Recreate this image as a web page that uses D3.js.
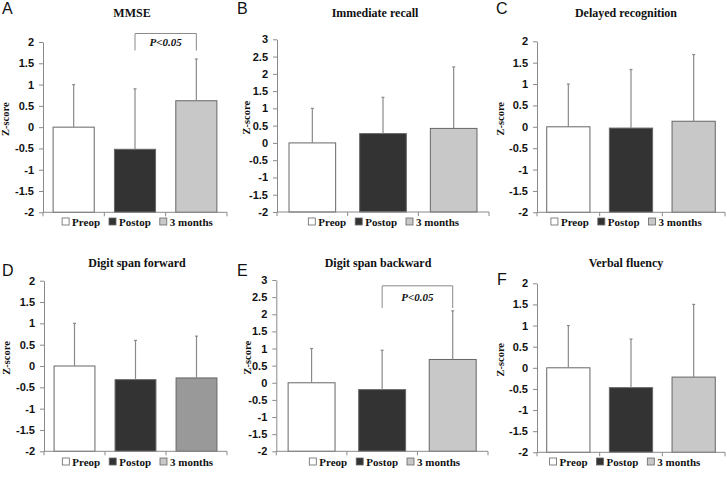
<!DOCTYPE html>
<html><head><meta charset="utf-8">
<script src="https://cdn.jsdelivr.net/npm/d3@7/dist/d3.min.js"></script>
<style>
body{margin:0;background:#fff;}
svg{display:block;}
</style></head>
<body>
<svg id="chart" width="727" height="483"></svg>
<script>
// ---------- DATA ----------
const categories = ["Preop", "Postop", "3 months"];
const panelLetters = ["A", "B", "C", "D", "E", "F"];
const panelTitles = ["MMSE", "Immediate recall", "Delayed recognition",
                     "Digit span forward", "Digit span backward", "Verbal fluency"];
const yMin = -2;
const yMaxes = [2, 3, 2, 2, 3, 2];
const yTickStep = 0.5;

const meansMMSE = [0, -0.52, 0.62];
const sdMMSE = [1.0, 1.42, 0.98];
const meansImmRecall = [0, 0.27, 0.42];
const sdImmRecall = [1.0, 1.05, 1.78];
const meansDelRecog = [0, -0.03, 0.13];
const sdDelRecog = [1.0, 1.37, 1.56];
const meansDSF = [0, -0.32, -0.28];
const sdDSF = [1.0, 0.92, 0.98];
const meansDSB = [0, -0.2, 0.68];
const sdDSB = [1.0, 1.15, 1.42];
const meansVF = [0, -0.47, -0.22];
const sdVF = [1.0, 1.15, 1.72];

const allMeans = [meansMMSE, meansImmRecall, meansDelRecog, meansDSF, meansDSB, meansVF];
const allSD = [sdMMSE, sdImmRecall, sdDelRecog, sdDSF, sdDSB, sdVF];

// significance comparisons (panel index, groups, label)
const sigPanels = [0, 4];
const sigFrom = ["Postop", "Postop"];
const sigTo = ["3 months", "3 months"];
const sigLabel = ["P<0.05", "P<0.05"];
const sigTop = [2.2, 2.83];   // bracket top in z units
const sigLeg = [1.8, 2.18];   // bracket leg end in z units

// ---------- LAYOUT ----------
const layout = [
  {left:43,    right:227, top:42,    bottom:212.3, pad:0.33,  tx:132, ty:17,  lx:2,   ly:14,  yl:5,   lgx:137.5, lgy:226},
  {left:277,   right:489, top:39.3,  bottom:212,   pad:0.34,  tx:375, ty:17,  lx:237, ly:14,  yl:246, lgx:383.7, lgy:226},
  {left:537,   right:725, top:41.3,  bottom:212.3, pad:0.31,  tx:626, ty:17,  lx:496, ly:14,  yl:500, lgx:626.3, lgy:226},
  {left:44,    right:227, top:280.7, bottom:451.3, pad:0.33,  tx:137, ty:267, lx:2,   ly:276, yl:6,   lgx:137.7, lgy:466},
  {left:276.3, right:488, top:280,   bottom:451.3, pad:0.335, tx:378, ty:267, lx:237, ly:276, yl:247, lgx:384.7, lgy:466},
  {left:537,   right:725, top:283.3, bottom:452.3, pad:0.31,  tx:626, ty:267, lx:497, ly:285, yl:500, lgx:625,   lgy:466}
];
const barColors = ["#ffffff", "#333333", "#c8c8c8"];
const barColorsD = ["#ffffff", "#333333", "#999999"];
const axisColor = "#8a8a8a";
const serif = "'Liberation Serif','Times New Roman',serif";
const sans = "'Liberation Sans',Arial,sans-serif";

const svg = d3.select("#chart");

layout.forEach((L, i) => {
  const g = svg.append("g");
  const means = allMeans[i], sds = allSD[i];
  const colors = i === 3 ? barColorsD : barColors;

  const x = d3.scaleBand().domain(categories).range([L.left, L.right])
    .paddingInner(L.pad).paddingOuter(L.pad / 2);
  const y = d3.scaleLinear().domain([yMin, yMaxes[i]]).range([L.bottom, L.top]);
  const ticks = d3.range(yMin, yMaxes[i] + 1e-9, yTickStep);

  // bars
  g.selectAll("rect.bar").data(categories).join("rect")
    .attr("class", "bar")
    .attr("x", d => x(d))
    .attr("width", x.bandwidth())
    .attr("y", (d, k) => y(means[k]))
    .attr("height", (d, k) => y(yMin) - y(means[k]))
    .attr("fill", (d, k) => colors[k])
    .attr("stroke", "#666")
    .attr("stroke-width", 1);

  // error bars (upper only)
  const eb = g.selectAll("g.err").data(categories).join("g").attr("class", "err");
  eb.append("line")
    .attr("x1", d => x(d) + x.bandwidth() / 2)
    .attr("x2", d => x(d) + x.bandwidth() / 2)
    .attr("y1", (d, k) => y(means[k]))
    .attr("y2", (d, k) => y(means[k] + sds[k]))
    .attr("stroke", axisColor).attr("stroke-width", 1.2);
  eb.append("line")
    .attr("x1", d => x(d) + x.bandwidth() / 2 - 1.5)
    .attr("x2", d => x(d) + x.bandwidth() / 2 + 1.5)
    .attr("y1", (d, k) => y(means[k] + sds[k]))
    .attr("y2", (d, k) => y(means[k] + sds[k]))
    .attr("stroke", axisColor).attr("stroke-width", 1.2);

  // y axis
  const ya = g.append("g").attr("transform", `translate(${L.left},0)`)
    .call(d3.axisLeft(y).tickValues(ticks).tickFormat(d => String(+d.toFixed(1)))
      .tickSize(4).tickPadding(5).tickSizeOuter(0));
  ya.select(".domain").attr("stroke", axisColor);
  ya.selectAll(".tick line").attr("stroke", axisColor);
  ya.selectAll(".tick text").attr("fill", "#111").style("font-family", sans)
    .style("font-weight", "bold").style("font-size", "11px");

  // x axis (boundary ticks)
  const xa = g.append("g").attr("transform", `translate(0,${L.bottom})`);
  xa.append("line").attr("x1", L.left).attr("x2", L.right).attr("y1", 0).attr("y2", 0)
    .attr("stroke", axisColor);
  const bounds = categories.map(c => x(c) - x.step() * L.pad / 2).concat([L.right]);
  xa.selectAll("line.bt").data(bounds).join("line").attr("class", "bt")
    .attr("x1", d => d).attr("x2", d => d).attr("y1", 0).attr("y2", 4)
    .attr("stroke", axisColor);

  // title
  g.append("text").attr("x", L.tx).attr("y", L.ty).attr("text-anchor", "middle")
    .style("font-family", serif).style("font-weight", "bold").style("font-size", "12px")
    .attr("fill", "#111").text(panelTitles[i]);

  // panel letter
  g.append("text").attr("x", L.lx).attr("y", L.ly)
    .style("font-family", sans).style("font-size", "16px").attr("fill", "#111")
    .text(panelLetters[i]);

  // y label
  const yc = (L.top + L.bottom) / 2 - 8;
  g.append("text").attr("transform", `translate(${L.yl + 4},${yc}) rotate(-90)`)
    .attr("text-anchor", "middle")
    .style("font-family", serif).style("font-weight", "bold").style("font-size", "10.5px")
    .attr("fill", "#111").text("Z-score");

  // legend
  const lg = g.append("g");
  let cx = 0;
  categories.forEach((c, k) => {
    const it = lg.append("g").attr("transform", `translate(${cx},0)`);
    it.append("rect").attr("x", 0).attr("y", -8).attr("width", 7).attr("height", 7)
      .attr("fill", barColors[k]).attr("stroke", "#666").attr("stroke-width", 0.8);
    const t = it.append("text").attr("x", 10).attr("y", 0)
      .style("font-family", serif).style("font-weight", "bold").style("font-size", "11px")
      .attr("fill", "#111").text(c);
    cx += 10 + t.node().getComputedTextLength() + 9;
  });
  const totalW = cx - 9;
  lg.attr("transform", `translate(${L.lgx - totalW / 2},${L.lgy})`);

  // significance bracket
  sigPanels.forEach((p, s) => {
    if (p !== i) return;
    const x1 = x(sigFrom[s]) + x.bandwidth() / 2;
    const x2 = x(sigTo[s]) + x.bandwidth() / 2;
    const yt = y(sigTop[s]), yl = y(sigLeg[s]);
    g.append("path")
      .attr("d", `M${x1},${yl}V${yt}H${x2}V${yl}`)
      .attr("fill", "none").attr("stroke", axisColor).attr("stroke-width", 1);
    g.append("text").attr("x", (x1 + x2) / 2).attr("y", y((sigTop[s] + sigLeg[s]) / 2) + 4)
      .attr("text-anchor", "middle")
      .style("font-family", serif).style("font-weight", "bold").style("font-style", "italic")
      .style("font-size", "11px").attr("fill", "#111").text(sigLabel[s]);
  });
});
</script>
</body></html>
